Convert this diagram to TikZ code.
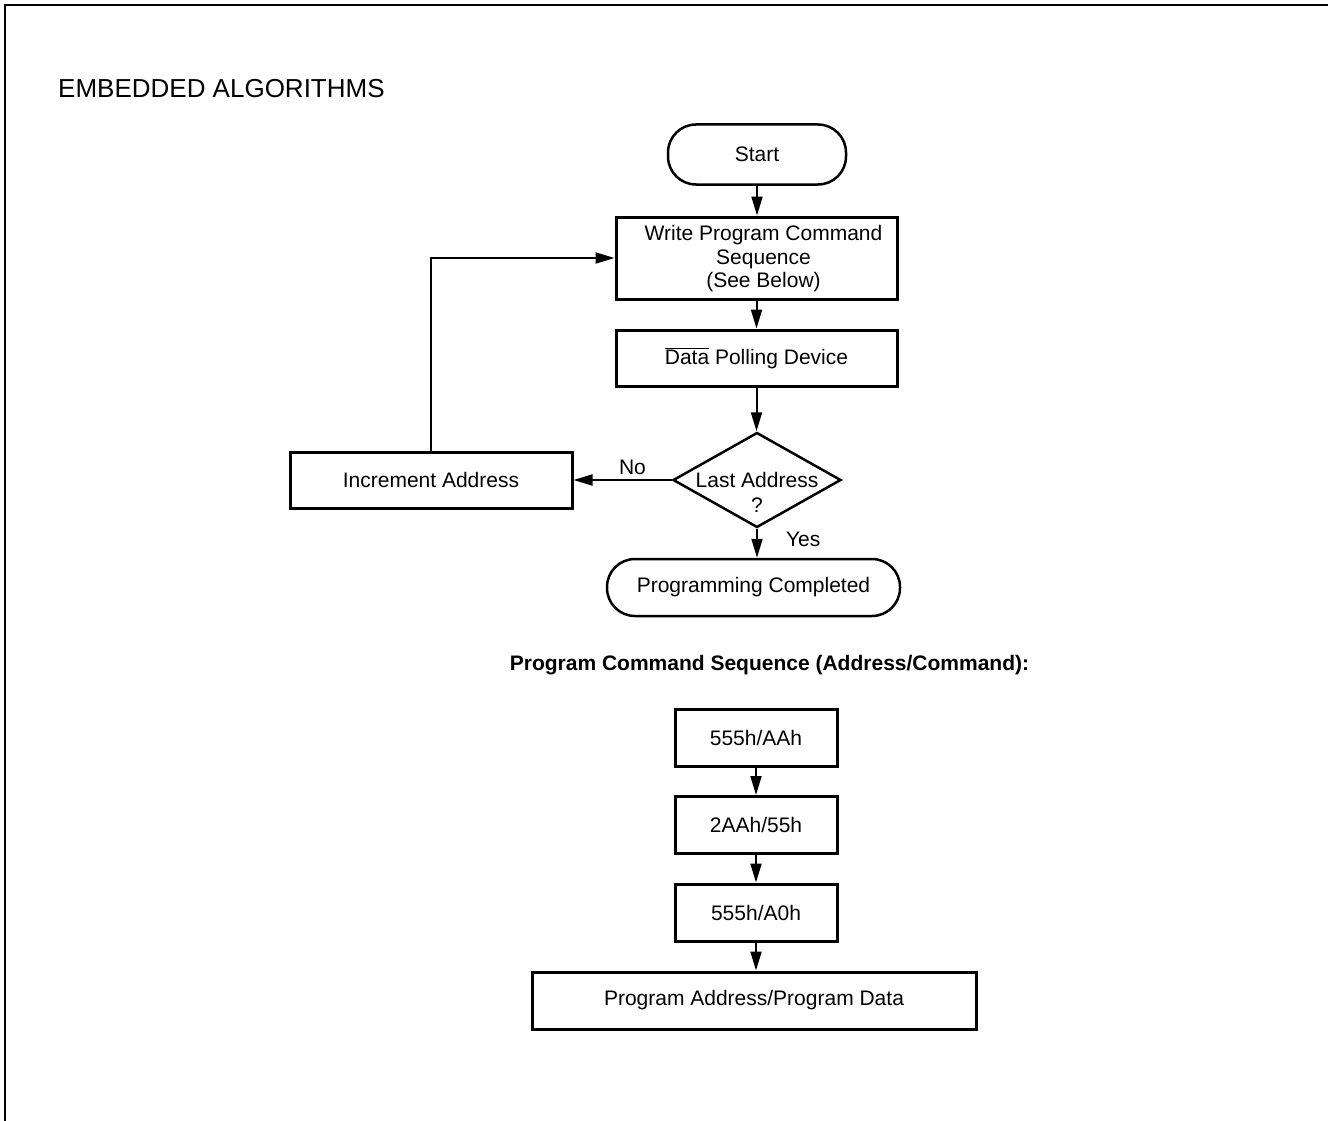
\documentclass[tikz,border=0pt]{standalone}
\usepackage{fontspec}
\setmainfont{Liberation Sans}
\usetikzlibrary{arrows.meta,shapes.geometric}
\begin{document}
\begin{tikzpicture}[x=1pt,y=-1pt,
  txt/.style={font=\fontsize{21}{24}\selectfont},
  box/.style={draw,line width=3pt,minimum width=#1,minimum height=56pt,inner sep=0pt,align=center,txt},
  box/.default=281pt,
  term/.style={draw,line width=2.5pt,rounded corners=28pt,minimum height=60pt,inner sep=0pt,align=center,txt},
  conn/.style={line width=2pt,-{Triangle[length=19pt,width=11pt]}},
  lbl/.style={txt,inner sep=2pt}]
\useasboundingbox (0,0) rectangle (1328,1121);
\draw[line width=2pt] (5,1121) -- (5,5) -- (1328,5);

\node[font=\fontsize{26}{30}\selectfont,anchor=west,inner sep=0pt] (head) at (58,89) {EMBEDDED ALGORITHMS};

\node[term,minimum width=178pt] (start) at (757,154.5) {Start};
\node[box,minimum height=82pt] (write) at (756.5,258) {};
\node[txt,align=center,inner sep=0pt,font=\fontsize{21}{23.5}\selectfont] (writet) at ([xshift=7pt,yshift=-1pt]write.center) {Write Program Command\\Sequence\\(See Below)};
\node[box] (poll) at (756.5,358) {$\overline{\mbox{Data}}$ Polling Device};
\node[diamond,draw,line width=2.5pt,minimum width=168pt,minimum height=95pt,inner sep=0pt] (dec) at (757,480) {};
\node[txt,align=center,inner sep=0pt,font=\fontsize{21}{25}\selectfont] (dect) at (757,492) {Last Address\\?};
\node[box=282pt] (inc) at (431,480) {Increment Address};
\node[term,minimum width=293pt,minimum height=57pt] (done) at (753.5,587.5) {Programming Completed};

\node[font=\bfseries\fontsize{21}{24}\selectfont,inner sep=0pt] (title) at (769.5,665) {Program Command Sequence (Address/Command):};

\node[box=162pt,minimum height=57pt] (s1) at (756,737.5) {555h/AAh};
\node[box=162pt,minimum height=57pt] (s2) at (756,825) {2AAh/55h};
\node[box=162pt,minimum height=57pt] (s3) at (756,912.5) {555h/A0h};
\node[box=444pt,minimum height=57pt] (s4) at (754,1000.5) {Program Address/Program Data};

\draw[conn] (start.south) -- (start.south |- write.north);
\draw[conn] (write.south) -- (write.south |- poll.north);
\draw[conn] (poll.south) -- (poll.south |- dec.north);
\draw[conn] (dec.west) -- (inc.east) node[lbl,pos=0.4,above=2pt] {No};
\draw[conn] (inc.north) |- (write.west);
\draw[conn] (dec.south) -- (dec.south |- done.north) node[lbl,pos=0.35,right=26pt] {Yes};
\draw[conn] (s1.south) -- (s2.north);
\draw[conn] (s2.south) -- (s3.north);
\draw[conn] (s3.south) -- (s3.south |- s4.north);
\end{tikzpicture}
\end{document}
